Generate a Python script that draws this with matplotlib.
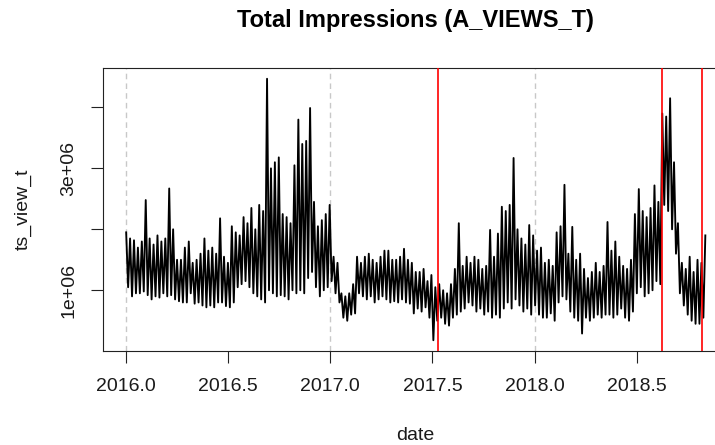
import numpy as np
import matplotlib
matplotlib.use("Agg")
import matplotlib.pyplot as plt

plt.rcParams['font.family'] = ['Liberation Sans', 'DejaVu Sans']

# Weekly peak / trough of total impressions (millions), weeks starting 2016-01-01
weekly_high = [
    1.95, 1.85, 1.82, 1.70, 1.80, 2.48, 1.85, 1.75, 1.90, 1.80,
    1.85, 2.67, 2.00, 1.50, 1.50, 1.70, 1.80, 1.45, 1.50, 1.60,
    1.85, 1.65, 1.70, 1.60, 2.18, 1.55, 1.45, 2.05, 1.95, 1.90,
    2.20, 2.10, 2.35, 2.00, 2.40, 2.30, 4.47, 3.00, 3.10, 3.18,
    2.25, 2.20, 2.10, 3.05, 3.80, 3.40, 3.45, 3.99, 2.45, 2.05,
    2.15, 2.25, 2.40, 1.55, 1.45, 0.95, 0.90, 0.95, 1.10, 1.55,
    1.45, 1.55, 1.60, 1.50, 1.45, 1.55, 1.65, 1.65, 1.50, 1.50,
    1.55, 1.68, 1.50, 1.45, 1.30, 1.30, 1.35, 1.15, 1.25, 1.05,
    1.10, 1.00, 0.95, 1.10, 1.35, 2.10, 1.40, 1.55, 1.45, 1.55,
    1.50, 1.35, 1.40, 1.99, 1.55, 1.93, 2.37, 2.30, 2.40, 3.17,
    2.00, 1.85, 1.75, 2.07, 1.90, 1.65, 1.70, 1.45, 1.50, 1.40,
    1.95, 2.05, 2.73, 1.60, 2.04, 1.50, 1.60, 1.35, 1.20, 1.30,
    1.45, 1.30, 1.40, 2.12, 1.65, 1.80, 1.55, 1.40, 1.35, 1.50,
    2.25, 2.66, 2.30, 2.20, 2.35, 2.72, 2.45, 3.90, 3.85, 4.15,
    3.10, 2.10, 1.45, 1.35, 1.55, 1.30, 1.50, 1.45, 1.90,
]
weekly_low = [
    1.05, 0.90, 0.95, 0.95, 0.98, 0.92, 0.85, 0.90, 0.88, 0.95,
    0.90, 0.92, 0.85, 0.82, 0.80, 0.80, 0.95, 0.78, 0.80, 0.75,
    0.72, 0.75, 0.72, 0.80, 0.80, 0.74, 0.72, 0.80, 1.05, 1.10,
    1.15, 1.05, 0.95, 0.90, 0.85, 0.80, 1.00, 0.95, 0.90, 0.92,
    0.90, 0.85, 1.00, 0.95, 1.00, 0.95, 1.20, 1.30, 1.05, 0.90,
    1.00, 1.05, 1.15, 0.95, 0.80, 0.55, 0.50, 0.60, 0.62, 0.95,
    0.90, 0.85, 0.90, 0.80, 0.85, 0.90, 0.85, 0.80, 0.82, 0.80,
    0.85, 0.80, 0.78, 0.62, 0.70, 0.65, 0.72, 0.55, 0.18, 0.50,
    0.55, 0.45, 0.42, 0.55, 0.60, 0.65, 0.70, 0.80, 0.75, 0.65,
    0.70, 0.60, 0.65, 0.55, 0.60, 0.55, 0.70, 0.80, 0.70, 0.85,
    0.75, 0.65, 0.70, 0.60, 0.75, 0.60, 0.55, 0.55, 0.62, 0.50,
    0.80, 0.90, 0.85, 0.65, 0.55, 0.50, 0.29, 0.55, 0.50, 0.55,
    0.60, 0.55, 0.60, 0.60, 0.55, 0.60, 0.70, 0.55, 0.50, 0.65,
    0.95, 1.05, 0.90, 0.95, 1.00, 1.15, 1.10, 2.40, 2.30, 2.00,
    1.60, 0.95, 0.75, 0.60, 0.50, 0.45, 0.45, 0.55,
]
year_lines = [2016.0, 2017.0, 2018.0]
event_dates = [2017.527, 2018.623, 2018.818]

# Interleave peaks (early week) and troughs (weekend) in decimal years
t, v = [], []
for w, hi in enumerate(weekly_high):
    t.append(2016.0 + (7 * w) / 365.25)
    v.append(hi * 1e6)
    if w < len(weekly_low):
        t.append(2016.0 + (7 * w + 3.5) / 365.25)
        v.append(weekly_low[w] * 1e6)
t = np.array(t)
v = np.array(v)

W, H = 715, 445
fig = plt.figure(figsize=(W / 100, H / 100), dpi=100)
left, right, top, bottom = 103, 728.5, 68.3, 350.7
ax = fig.add_axes([left / W, 1 - bottom / H, (right - left) / W, (bottom - top) / H])

ax.plot(t, v, color='black', lw=1.35, zorder=3)

# R-style 4% padding around the data range
tr = t.max() - t.min()
vr = v.max() - v.min()
ax.set_xlim(t.min() - 0.04 * tr, t.max() + 0.04 * tr)
ax.set_ylim(v.min() - 0.04 * vr, v.max() + 0.04 * vr)

for x in year_lines:
    ax.axvline(x, color='#c8c8c8', lw=1.0, ls=(0, (4, 3)), zorder=1)
for x in event_dates:
    ax.axvline(x, color='#ff0000', lw=1.2, zorder=4)

ax.set_xticks([2016.0, 2016.5, 2017.0, 2017.5, 2018.0, 2018.5])
ax.set_xticklabels(['2016.0', '2016.5', '2017.0', '2017.5', '2018.0', '2018.5'])
ax.set_yticks([1e6, 2e6, 3e6, 4e6])
ax.set_yticklabels(['1e+06', '', '3e+06', ''], rotation=90, va='center')

ax.tick_params(axis='both', direction='out', length=8.4, width=0.8, colors='#222222',
               labelsize=14, labelcolor='#1a1a1a')
ax.tick_params(axis='x', pad=11)
ax.tick_params(axis='y', pad=10)

for s in ax.spines.values():
    s.set_linewidth(0.8)
    s.set_color('#222222')

fig.text(23 / W, 1 - 209 / H, 'ts_view_t', rotation=90, ha='center', va='center',
         fontsize=14, color='#1a1a1a')
fig.text(415.7 / W, 1 - 436 / H, 'date', ha='center', va='center',
         fontsize=14, color='#1a1a1a')
fig.text(415.7 / W, 1 - 21 / H, 'Total Impressions (A_VIEWS_T)', ha='center', va='center',
         fontsize=17, fontweight='bold', color='black')

fig.savefig('out.png', dpi=100)
